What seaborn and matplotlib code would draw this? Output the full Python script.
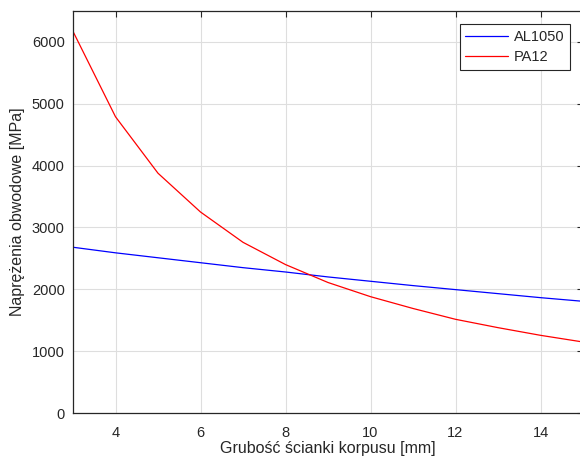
import pandas as pd
import seaborn as sns
from matplotlib import pyplot as plt

thickness = [3, 4, 5, 6, 7, 8, 9, 10, 11, 12, 13, 14, 15]
al1050 = [2680, 2590, 2510, 2430, 2350, 2280, 2200, 2130, 2060, 1995, 1930, 1865, 1806]
pa12 = [6170, 4790, 3877, 3250, 2760, 2400, 2110, 1881, 1690, 1515, 1380, 1256, 1148]
materials = ["AL1050", "PA12"]
x_ticks = [4, 6, 8, 10, 12, 14]
y_ticks = [0, 1000, 2000, 3000, 4000, 5000, 6000]

df = pd.concat(
    [
        pd.DataFrame({"t": thickness, "stress": al1050, "material": materials[0]}),
        pd.DataFrame({"t": thickness, "stress": pa12, "material": materials[1]}),
    ]
)

sns.set_style("whitegrid")
plt.rcParams["font.family"] = ["Liberation Sans", "DejaVu Sans"]

fig = plt.figure(figsize=(5.8, 4.61), dpi=100)
ax = fig.add_axes([73 / 580, 48 / 461, 510 / 580, 402 / 461])

sns.lineplot(
    data=df,
    x="t",
    y="stress",
    hue="material",
    palette={"AL1050": "#0000FF", "PA12": "#FF0000"},
    linewidth=0.9,
    ax=ax,
)

ax.set_xlim(3, 15)
ax.set_ylim(0, 6500)
ax.set_xticks(x_ticks)
ax.set_yticks(y_ticks)
ax.grid(True, color="#dedede", linewidth=0.8)
for side in ["top", "bottom", "left", "right"]:
    ax.spines[side].set_visible(True)
    ax.spines[side].set_color("#262626")
    ax.spines[side].set_linewidth(0.9)
ax.tick_params(
    direction="in", length=4, width=0.8, colors="#262626",
    top=True, right=True, labelsize=10.5, pad=6,
)
ax.tick_params(axis="x", pad=9)
ax.set_xlabel("Grubość ścianki korpusu [mm]", fontsize=11.5, color="#262626", labelpad=1)
ax.set_ylabel("Naprężenia obwodowe [MPa]", fontsize=11.5, color="#262626", labelpad=5)

leg = ax.legend(
    loc="upper right",
    bbox_to_anchor=(497 / 510, 389 / 402),
    borderaxespad=0,
    fontsize=10.5,
    fancybox=False,
    framealpha=1,
    edgecolor="#262626",
    handlelength=2.9,
    borderpad=0.4,
    labelspacing=0.45,
    handletextpad=0.4,
)
leg.get_frame().set_linewidth(0.8)

fig.savefig("out.png", dpi=100)
